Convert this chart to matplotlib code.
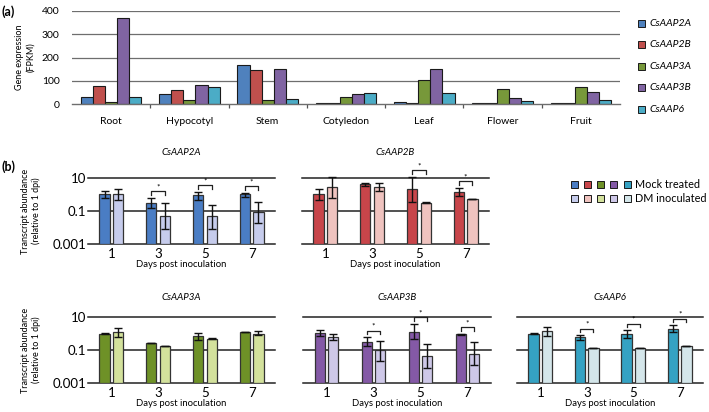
import numpy as np
import matplotlib
matplotlib.use('Agg')
import matplotlib.pyplot as plt
from matplotlib.patches import Rectangle

plt.rcParams['font.family'] = ['Lato', 'DejaVu Sans']

# ---- (a) FPKM per tissue ----
tissues = ['Root', 'Hypocotyl', 'Stem', 'Cotyledon', 'Leaf', 'Flower', 'Fruit']
genes = ['CsAAP2A', 'CsAAP2B', 'CsAAP3A', 'CsAAP3B', 'CsAAP6']
fpkm_2a = [29, 43, 168, 4, 10, 4, 4]
fpkm_2b = [77, 59, 145, 4, 4, 4, 4]
fpkm_3a = [9, 17, 17, 29, 102, 63, 72]
fpkm_3b = [368, 82, 149, 42, 149, 24, 52]
fpkm_6 = [29, 75, 22, 49, 47, 13, 17]
fpkm_yticks = [0, 100, 200, 300, 400]

# ---- (b) transcript abundance relative to 1 dpi ----
days = ['1', '3', '5', '7']

mock_2a = [1.0, 0.32, 0.87, 1.05]
mock_2a_lo = [0.63, 0.16, 0.46, 0.72]
mock_2a_hi = [1.6, 0.63, 1.5, 1.3]
dm_2a = [1.0, 0.048, 0.048, 0.087]
dm_2a_lo = [0.46, 0.008, 0.008, 0.02]
dm_2a_hi = [2.1, 0.29, 0.24, 0.33]
sig_2a = [1, 2, 3]

mock_2b = [1.0, 4.2, 2.1, 1.45]
mock_2b_lo = [0.46, 3.5, 0.33, 0.76]
mock_2b_hi = [2.1, 5.2, 11.5, 2.6]
dm_2b = [2.9, 2.9, 0.32, 0.52]
dm_2b_lo = [0.63, 1.66, 0.31, 0.5]
dm_2b_hi = [11.5, 5.0, 0.33, 0.54]
sig_2b = [2, 3]

mock_3a = [1.0, 0.26, 0.74, 1.23]
mock_3a_lo = [0.97, 0.25, 0.39, 1.19]
mock_3a_hi = [1.03, 0.27, 1.07, 1.27]
dm_3a = [1.23, 0.17, 0.49, 1.0]
dm_3a_lo = [0.65, 0.165, 0.475, 0.78]
dm_3a_hi = [2.3, 0.175, 0.505, 1.35]
sig_3a = []

mock_3b = [1.07, 0.32, 1.23, 0.89]
mock_3b_lo = [0.67, 0.18, 0.49, 0.86]
mock_3b_hi = [1.6, 0.59, 3.8, 0.92]
dm_3b = [0.65, 0.095, 0.044, 0.058]
dm_3b_lo = [0.41, 0.022, 0.008, 0.012]
dm_3b_hi = [0.98, 0.35, 0.24, 0.29]
sig_3b = [1, 2, 3]

mock_6 = [1.0, 0.59, 1.0, 2.0]
mock_6_lo = [0.97, 0.43, 0.54, 1.3]
mock_6_hi = [1.03, 0.78, 1.55, 3.2]
dm_6 = [1.4, 0.13, 0.13, 0.17]
dm_6_lo = [0.74, 0.126, 0.126, 0.165]
dm_6_hi = [2.6, 0.134, 0.134, 0.175]
sig_6 = [1, 2, 3]

mock_colors = ['#4A7DC4', '#C8454A', '#6E9127', '#8459A6', '#35A2C3']
dm_colors = ['#C6CCEC', '#EFC3BF', '#D3E19C', '#CEC8E8', '#D4E6EA']
a_colors = ['#4F81BD', '#C0504D', '#77983A', '#8064A2', '#4BACC6']

W, H = 709, 412
fig = plt.figure(figsize=(W / 100, H / 100), dpi=100)


def px_axes(x0, y0, x1, y1):
    return fig.add_axes([x0 / W, 1 - y1 / H, (x1 - x0) / W, (y1 - y0) / H])


# ================= panel (a) =================
axa = px_axes(72, 11, 620, 104)
fpkm = [fpkm_2a, fpkm_2b, fpkm_3a, fpkm_3b, fpkm_6]
xg = np.arange(len(tissues))
bw = 0.155
for j, vals in enumerate(fpkm):
    axa.bar(xg + (j - 2) * bw, vals, bw, color=a_colors[j], edgecolor='#1a1a1a',
            linewidth=0.8, zorder=3)
axa.set_xlim(-0.5, len(tissues) - 0.5)
axa.set_ylim(0, 400)
axa.set_yticks(fpkm_yticks)
for v in fpkm_yticks[1:]:
    axa.axhline(v, color='#6e6e6e', lw=0.9, zorder=1)
for s in ['top', 'right', 'left']:
    axa.spines[s].set_visible(False)
axa.spines['bottom'].set_color('#6e6e6e')
axa.spines['bottom'].set_linewidth(1.0)
axa.spines['bottom'].set_zorder(4)
axa.set_xticks(xg)
axa.set_xticklabels(tissues, fontsize=7.5)
axa.set_xticks(xg[:-1] + 0.5, minor=True)
axa.tick_params(axis='x', which='major', length=0, pad=9)
axa.tick_params(axis='x', which='minor', length=3, color='#555555', width=0.9)
axa.tick_params(axis='y', length=0, labelsize=7.5, pad=9)
axa.set_ylabel('Gene expression\n(FPKM)', fontsize=6.5)
axa.yaxis.set_label_coords(-0.068, 0.5)

# legend (a)
for j, g in enumerate(genes):
    yc = 23 + j * 21.6
    fig.add_artist(Rectangle(((638) / W, 1 - (yc + 3.5) / H), 7 / W, 7 / H,
                             transform=fig.transFigure, facecolor=a_colors[j],
                             edgecolor='#1a1a1a', linewidth=0.7))
    fig.text(649 / W, 1 - yc / H, g, fontsize=7.5, style='italic', va='center', ha='left')

fig.text(1 / W, 1 - 12 / H, '(a)', fontsize=9, fontweight='bold', va='center')
fig.text(1 / W, 1 - 167 / H, '(b)', fontsize=9, fontweight='bold', va='center')

# ================= panel (b) =================
panels = [
    ('CsAAP2A', (88, 178, 275, 244), mock_2a, mock_2a_lo, mock_2a_hi, dm_2a, dm_2a_lo, dm_2a_hi, sig_2a, 0, True, 1.38),
    ('CsAAP2B', (302, 178, 489, 244), mock_2b, mock_2b_lo, mock_2b_hi, dm_2b, dm_2b_lo, dm_2b_hi, sig_2b, 1, False, 1.38),
    ('CsAAP3A', (88, 317, 275, 383), mock_3a, mock_3a_lo, mock_3a_hi, dm_3a, dm_3a_lo, dm_3a_hi, sig_3a, 2, True, 1.30),
    ('CsAAP3B', (303, 317, 491, 383), mock_3b, mock_3b_lo, mock_3b_hi, dm_3b, dm_3b_lo, dm_3b_hi, sig_3b, 3, False, 1.30),
    ('CsAAP6', (517, 317, 703, 383), mock_6, mock_6_lo, mock_6_hi, dm_6, dm_6_lo, dm_6_hi, sig_6, 4, False, 1.30),
]

floor = 0.001
x = np.arange(len(days))
bwb = 0.22
off = 0.145
for (title, box, m, mlo, mhi, d, dlo, dhi, sig, ci, show_y, ty) in panels:
    ax = px_axes(*box)
    ax.set_yscale('log')
    ax.set_ylim(floor, 10)
    ax.set_xlim(-0.5, len(days) - 0.5)
    for v in [10, 0.1, 0.001]:
        ax.axhline(v, color='#222222', lw=1.1, zorder=1, clip_on=False)
    m = np.array(m); d = np.array(d)
    merr = [m - np.array(mlo), np.array(mhi) - m]
    derr = [d - np.array(dlo), np.array(dhi) - d]
    ax.bar(x - off, m - floor, bwb, bottom=floor, color=mock_colors[ci],
           edgecolor='#333333', linewidth=0.9, zorder=3)
    ax.bar(x + off, d - floor, bwb, bottom=floor, color=dm_colors[ci],
           edgecolor='#333333', linewidth=0.9, zorder=3)
    ax.errorbar(x - off, m, yerr=merr, fmt='none', ecolor='#111111', elinewidth=1.0,
                capsize=3, capthick=1.0, zorder=4, clip_on=False)
    ax.errorbar(x + off, d, yerr=derr, fmt='none', ecolor='#111111', elinewidth=1.0,
                capsize=3, capthick=1.0, zorder=4, clip_on=False)
    for k in sig:
        top = max(mhi[k], dhi[k]) * 10 ** 0.4
        leg = top / 10 ** 0.22
        ax.plot([x[k] - off, x[k] - off, x[k] + off, x[k] + off], [leg, top, top, leg],
                color='#222222', lw=0.9, zorder=5, clip_on=False)
        ax.text(x[k], top * 10 ** 0.05, '*', ha='center', va='bottom', fontsize=6,
                clip_on=False)
    for s in ax.spines.values():
        s.set_visible(False)
    ax.set_xticks(x)
    ax.set_xticklabels(days, fontsize=9.5)
    ax.tick_params(axis='x', length=0, pad=3)
    ax.set_xlabel('Days post inoculation', fontsize=6.8, labelpad=0)
    ax.minorticks_off()
    ax.set_yticks([0.001, 0.1, 10])
    if show_y:
        ax.set_yticklabels(['0.001', '0.1', '10'], fontsize=9.5)
        ax.tick_params(axis='y', length=0, pad=1.5)
        ax.set_ylabel('Transcript abundance\n(relative to 1 dpi)', fontsize=6.5)
        ax.yaxis.set_label_coords(-0.25, 0.5)
    else:
        ax.tick_params(axis='y', length=0, labelleft=False)
    ax.text(0.5, ty, title, transform=ax.transAxes, ha='center', va='center',
            fontsize=7, style='italic')

# legend (b)
for row, (cols, lab) in enumerate([(mock_colors, 'Mock treated'), (dm_colors, 'DM inoculated')]):
    yc = 184 + row * 14
    for j, c in enumerate(cols):
        xc = 574.3 + j * 13.2
        fig.add_artist(Rectangle(((xc - 3.5) / W, 1 - (yc + 3.5) / H), 7 / W, 7 / H,
                                 transform=fig.transFigure, facecolor=c,
                                 edgecolor='#1a1a1a', linewidth=0.7))
    fig.text(635 / W, 1 - yc / H, lab, fontsize=7.8, va='center', ha='left')

fig.savefig('out.png', dpi=100)
